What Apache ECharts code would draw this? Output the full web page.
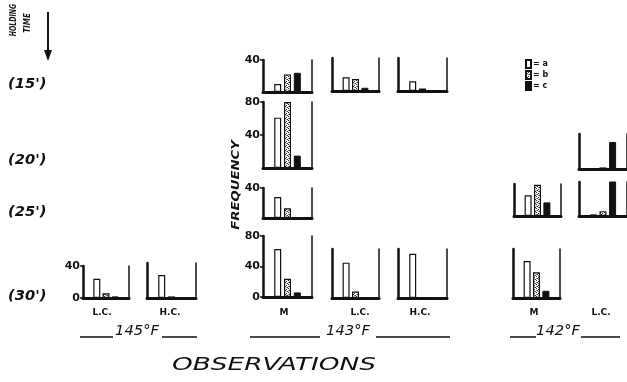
<!DOCTYPE html>
<html>
<head>
<meta charset="utf-8">
<script src="https://cdn.jsdelivr.net/npm/echarts@6/dist/echarts.min.js"></script>
<style>
  html, body { margin: 0; padding: 0; background: #fff; }
  #chart { width: 627px; height: 382px; }
</style>
</head>
<body>
<div id="chart"></div>
<script>
// bar slots inside each small panel (empty slots keep the bars left of the right rule)
var slots = ['', 'a', 'b', 'c', ''];
var seriesNames = ['a', 'b', 'c'];

// frequencies [a, b, c] for each observation / holding time
var f145_lc_30 = [24, 6, 2];
var f145_hc_30 = [29, 2, 0];
var f143_m_15 = [10, 22, 24];
var f143_m_20 = [61, 80, 15];
var f143_m_25 = [28, 13, 0];
var f143_m_30 = [63, 24, 6];
var f143_lc_15 = [17, 15, 4];
var f143_lc_30 = [44, 8, 1];
var f143_hc_15 = [12, 3, 0];
var f143_hc_30 = [55, 1, 0];
var f142_m_25 = [26, 39, 17];
var f142_m_30 = [46, 32, 9];
var f142_lc_20 = [0, 2, 34];
var f142_lc_25 = [2, 6, 44];

var rowLabels = ["(15')", "(20')", "(25')", "(30')"];
var colLabels = ['L.C.', 'H.C.', 'M', 'L.C.', 'H.C.', 'M', 'L.C.'];
var tempLabels = ['145°F', '143°F', '142°F'];

var panels = [
  { vals: f145_lc_30, left: 83, top: 266, width: 46, height: 32, max: 40, ticks: [0, 40] },
  { vals: f145_hc_30, left: 147, top: 263, width: 49, height: 35, max: 44, ticks: [] },
  { vals: f143_m_15, left: 263, top: 60, width: 49, height: 32, max: 40, ticks: [40] },
  { vals: f143_m_20, left: 263, top: 102, width: 49, height: 66, max: 80, ticks: [40, 80] },
  { vals: f143_m_25, left: 263, top: 188, width: 49, height: 30, max: 40, ticks: [40] },
  { vals: f143_m_30, left: 263, top: 236, width: 49, height: 61, max: 80, ticks: [0, 40, 80] },
  { vals: f143_lc_15, left: 332, top: 58, width: 47, height: 33, max: 41, ticks: [] },
  { vals: f143_lc_30, left: 332, top: 249, width: 47, height: 49, max: 61, ticks: [] },
  { vals: f143_hc_15, left: 398, top: 58, width: 49, height: 33, max: 41, ticks: [] },
  { vals: f143_hc_30, left: 398, top: 249, width: 49, height: 49, max: 61, ticks: [] },
  { vals: f142_m_25, left: 514, top: 184, width: 47, height: 32, max: 40, ticks: [] },
  { vals: f142_m_30, left: 513, top: 249, width: 47, height: 49, max: 61, ticks: [] },
  { vals: f142_lc_20, left: 579, top: 134, width: 50, height: 35, max: 44, ticks: [] },
  { vals: f142_lc_25, left: 579, top: 182, width: 50, height: 34, max: 42, ticks: [] }
];

// stippled fill for "b"
var pc = document.createElement('canvas');
pc.width = 4; pc.height = 4;
var pctx = pc.getContext('2d');
pctx.fillStyle = '#fff';
pctx.fillRect(0, 0, 4, 4);
pctx.fillStyle = '#333';
pctx.fillRect(0, 0, 1, 1);
pctx.fillRect(2, 1, 1, 1);
pctx.fillRect(1, 2, 1, 1);
pctx.fillRect(3, 3, 1, 1);
pctx.fillStyle = '#888';
pctx.fillRect(2, 3, 1, 1);
pctx.fillRect(0, 2, 1, 1);

var barStyles = [
  { color: '#fff', borderColor: '#111', borderWidth: 1.2 },
  { color: { image: pc, repeat: 'repeat' }, borderColor: '#111', borderWidth: 1.2 },
  { color: '#111', borderColor: '#111', borderWidth: 1 }
];

var grids = [], xAxes = [], yAxes = [], series = [];
panels.forEach(function (p, i) {
  grids.push({ left: p.left, top: p.top, width: p.width, height: p.height });
  xAxes.push({
    type: 'category', gridIndex: i, data: slots,
    axisLine: { lineStyle: { color: '#111', width: 3 } },
    axisTick: { show: false }, axisLabel: { show: false }
  });
  var hasTicks = p.ticks.length > 0;
  yAxes.push({
    type: 'value', gridIndex: i, position: 'left', min: 0, max: p.max,
    axisLine: { show: true, lineStyle: { color: '#111', width: 2.5 } },
    splitLine: { show: false },
    axisTick: { show: hasTicks, customValues: p.ticks, length: 3, lineStyle: { color: '#111', width: 1.5 } },
    axisLabel: { show: hasTicks, customValues: p.ticks, margin: 3, color: '#111',
      fontSize: 11, fontWeight: 'bold', fontFamily: 'DejaVu Sans' }
  });
  yAxes.push({
    type: 'value', gridIndex: i, position: 'right', min: 0, max: p.max,
    axisLine: { show: true, lineStyle: { color: '#111', width: 1.5 } },
    splitLine: { show: false }, axisTick: { show: false }, axisLabel: { show: false }
  });
  seriesNames.forEach(function (name, k) {
    series.push({
      type: 'bar', name: name, xAxisIndex: i, yAxisIndex: 2 * i,
      data: slots.map(function (s, j) { return j === k + 1 ? p.vals[k] : '-'; }),
      barWidth: 7, barGap: '-100%',
      itemStyle: barStyles[k],
      silent: true, animation: false
    });
  });
});

var ink = '#111';
var graphics = [];
function txt(text, x, y, font, opts) {
  opts = opts || {};
  graphics.push({
    type: 'text', x: x, y: y, rotation: opts.rotation || 0,
    scaleX: opts.scaleX || 1, silent: true,
    style: { text: text, font: font, fill: ink,
      align: opts.align || 'center', verticalAlign: opts.verticalAlign || 'middle' }
  });
}
function line(x1, y1, x2, y2, w) {
  graphics.push({ type: 'line', silent: true,
    shape: { x1: x1, y1: y1, x2: x2, y2: y2 },
    style: { stroke: ink, lineWidth: w || 1.5 } });
}

// holding time header with arrow
txt('HOLDING', 14, 20, 'italic bold 8px DejaVu Sans', { rotation: Math.PI / 2, scaleX: 0.78 });
txt('TIME', 28, 23, 'italic bold 8px DejaVu Sans', { rotation: Math.PI / 2, scaleX: 0.9 });
line(48, 12, 48, 54, 2);
graphics.push({ type: 'polygon', silent: true,
  shape: { points: [[44, 50], [52, 50], [48, 61]] }, style: { fill: ink } });

// row labels
var rowY = [84, 160, 212, 296];
rowLabels.forEach(function (t, i) {
  txt(t, 8, rowY[i], 'italic bold 14px DejaVu Sans', { align: 'left', scaleX: 1.05 });
});

// frequency label
txt('FREQUENCY', 236, 185, 'italic bold 11px DejaVu Sans', { rotation: Math.PI / 2, scaleX: 1.2 });

// column labels
var colX = [102, 170, 284, 360, 420, 534, 601];
colLabels.forEach(function (t, i) {
  txt(t, colX[i], 313, 'bold 9px DejaVu Sans');
});

// temperature labels with rules
var tempX = [137, 348, 558];
var tempRules = [[80, 113, 162, 197], [250, 320, 376, 450], [510, 536, 581, 620]];
tempLabels.forEach(function (t, i) {
  txt(t, tempX[i], 331, 'italic 14px DejaVu Sans', { scaleX: 1.05 });
  var r = tempRules[i];
  line(r[0], 337, r[1], 337, 1.5);
  line(r[2], 337, r[3], 337, 1.5);
});

txt('OBSERVATIONS', 274, 366, 'italic 17px DejaVu Sans', { scaleX: 1.55 });

var chart = echarts.init(document.getElementById('chart'), null, { renderer: 'canvas' });
chart.setOption({
  animation: false,
  backgroundColor: '#fff',
  legend: {
    orient: 'vertical', left: 525, top: 59, padding: 0,
    itemWidth: 5, itemHeight: 8, itemGap: 1, icon: 'rect',
    data: seriesNames,
    formatter: '= {name}',
    textStyle: { fontSize: 8, fontWeight: 'bold', color: ink, fontFamily: 'DejaVu Sans', padding: [0, 0, 0, -3] }
  },
  grid: grids,
  xAxis: xAxes,
  yAxis: yAxes,
  series: series,
  graphic: graphics
});
</script>
</body>
</html>
